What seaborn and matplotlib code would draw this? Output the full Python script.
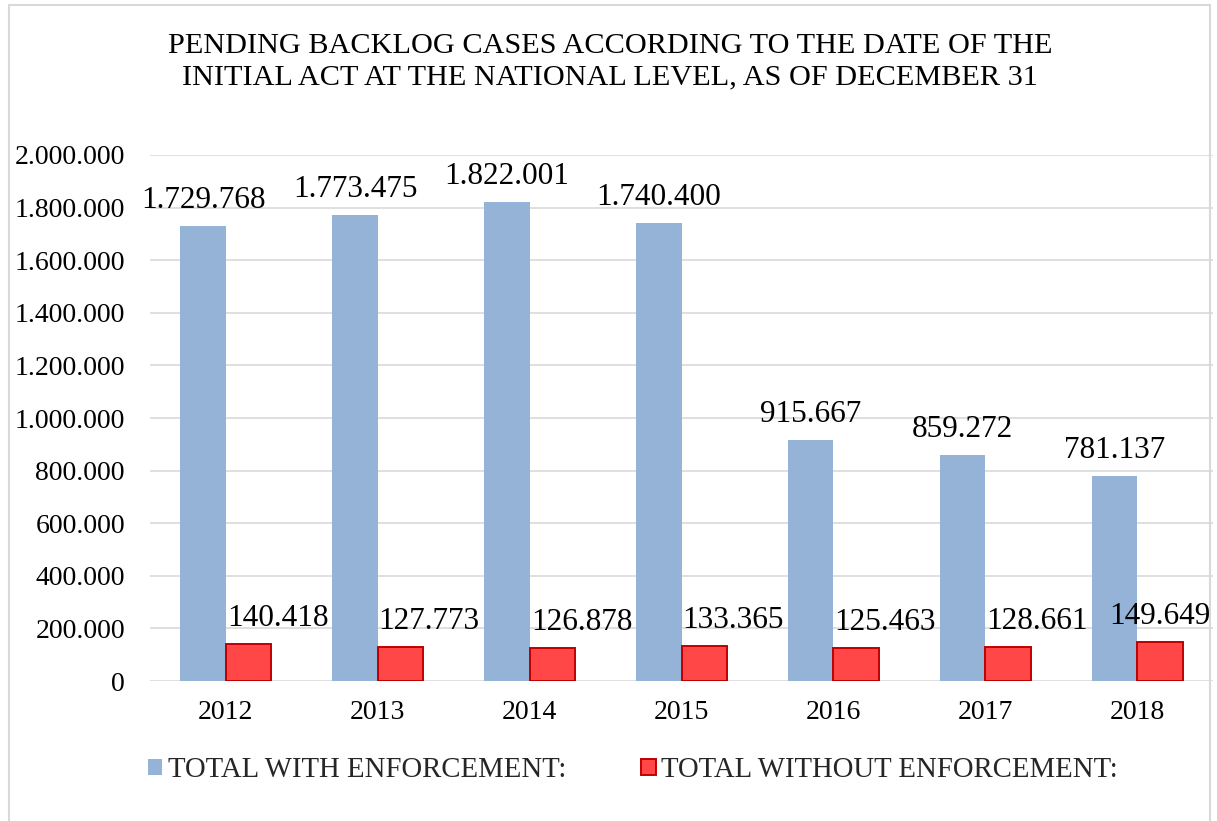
import matplotlib
matplotlib.use("Agg")
import matplotlib.pyplot as plt
import matplotlib.ticker as mticker
from matplotlib.patches import Rectangle, Patch
import seaborn as sns
import pandas as pd

# ---- data ----
years = ["2012", "2013", "2014", "2015", "2016", "2017", "2018"]
with_enforcement = [1729768, 1773475, 1822001, 1740400, 915667, 859272, 781137]
without_enforcement = [140418, 127773, 126878, 133365, 125463, 128661, 149649]
series_names = ["TOTAL WITH ENFORCEMENT:", "TOTAL WITHOUT ENFORCEMENT:"]
y_ticks = list(range(0, 2000001, 200000))
title_text = ("PENDING BACKLOG CASES ACCORDING TO THE DATE OF THE\n"
              "INITIAL ACT AT THE NATIONAL LEVEL, AS OF DECEMBER 31")

# label horizontal offsets (points) for the red series labels
red_label_dx = [21, 20, 21, 21, 21, 21, 0]

BLUE = "#95B3D7"
RED = "#FF4747"
RED_EDGE = "#C00000"
GRID = "#D9D9D9"

sns.set_theme(style="white")
plt.rcParams["font.family"] = ["Liberation Serif", "DejaVu Serif"]

df = pd.DataFrame({
    "year": years * 2,
    "value": with_enforcement + without_enforcement,
    "series": [series_names[0]] * len(years) + [series_names[1]] * len(years),
})

fig = plt.figure(figsize=(12.17, 8.21), dpi=100)
ax = fig.add_axes([150 / 1217, 1 - 681 / 821, (1213 - 150) / 1217, (681 - 155) / 821])

sns.barplot(data=df, x="year", y="value", hue="series", order=years,
            hue_order=series_names, palette=[BLUE, RED], width=0.6,
            gap=0, ax=ax, legend=False, saturation=1)

blue_c, red_c = ax.containers[0], ax.containers[1]
for p in blue_c:
    p.set_edgecolor("none")
    p.set_linewidth(0)
for p in red_c:
    p.set_edgecolor(RED_EDGE)
    p.set_linewidth(1.4)

ax.set_ylim(0, 2000000)
ax.set_yticks(y_ticks)
ax.yaxis.set_major_formatter(mticker.FuncFormatter(lambda v, _: f"{int(v):,}".replace(",", ".")))
ax.set_xlim(-0.5, len(years) - 0.5)
ax.grid(axis="y", color=GRID, linewidth=1.2)
ax.set_axisbelow(True)
for s in ax.spines.values():
    s.set_visible(False)
ax.tick_params(axis="y", labelsize=20, pad=18, length=0, colors="black")
ax.tick_params(axis="x", labelsize=20, pad=14, length=0, colors="black")
ax.set_xlabel("")
ax.set_ylabel("")

def fmt(v):
    return f"{v:,}".replace(",", ".")

for p, v in zip(blue_c, with_enforcement):
    ax.annotate(fmt(v), xy=(p.get_x() + p.get_width() / 2, p.get_height()),
                xytext=(0, 13), textcoords="offset points", ha="center",
                va="baseline", fontsize=22.5, color="black")
for p, v, dx in zip(red_c, without_enforcement, red_label_dx):
    ax.annotate(fmt(v), xy=(p.get_x() + p.get_width() / 2, p.get_height()),
                xytext=(dx, 13), textcoords="offset points", ha="center",
                va="baseline", fontsize=22.5, color="black")

fig.text(610 / 1217, 1 - 62 / 821, title_text, ha="center", va="center",
         fontsize=21.8, linespacing=1.28, color="black")

handles = [Patch(facecolor=BLUE, edgecolor="none"),
           Patch(facecolor=RED, edgecolor=RED_EDGE, linewidth=1.4)]
fig.legend(handles, series_names, ncol=2, loc="center left",
           bbox_to_anchor=(122 / 1217, 1 - 770 / 821), frameon=False,
           fontsize=20.7, handlelength=0.5, handleheight=0.5,
           handletextpad=0.2, columnspacing=2.6)

fig.patches.append(Rectangle((9 / 1217, -0.02), (1210 - 9) / 1217, 1.02 - 5 / 821,
                             transform=fig.transFigure, fill=False,
                             edgecolor=GRID, linewidth=1.5))

fig.savefig("out.png", dpi=100, facecolor="white")
